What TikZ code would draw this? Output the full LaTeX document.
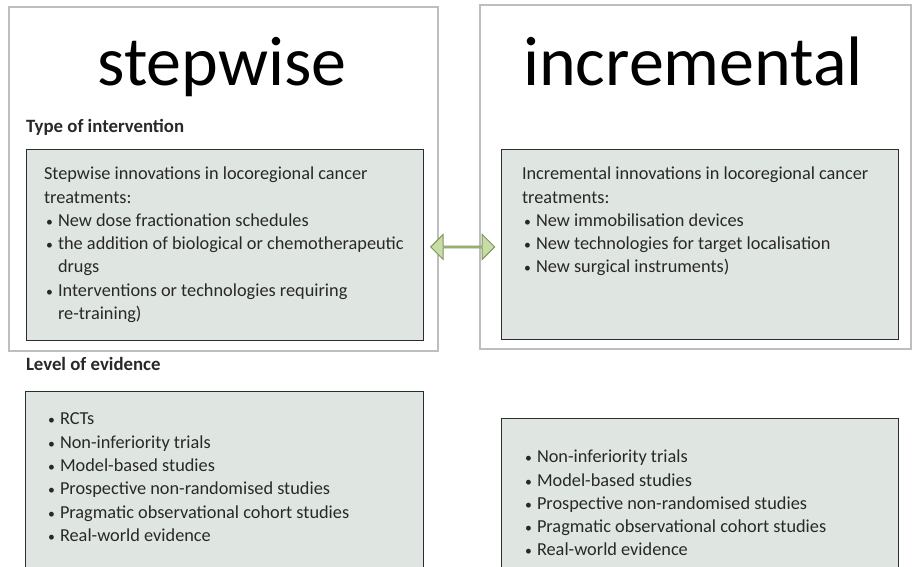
\documentclass[tikz,border=0pt]{standalone}
\usepackage{fontspec}
\setmainfont{Carlito}
\usetikzlibrary{positioning}
\usetikzlibrary{calc}
\usetikzlibrary{shapes.arrows}
\definecolor{framegray}{RGB}{190,190,190}
\definecolor{boxfill}{RGB}{223,230,226}
\definecolor{boxline}{RGB}{45,45,45}
\definecolor{bodytext}{RGB}{40,40,40}
\definecolor{arrowfill}{RGB}{200,220,166}
\definecolor{arrowline}{RGB}{128,150,92}
\newcommand{\bul}{\makebox[14pt][l]{\hspace*{2pt}\scalebox{0.75}{\textbullet}}}
\newcommand{\cont}{\hspace*{14pt}}
\tikzset{
  outerbox/.style={draw=framegray,line width=1.5pt,rectangle,inner sep=0pt,anchor=north west},
  greenbox/.style={draw=boxline,line width=1.4pt,fill=boxfill,rectangle,inner sep=0pt,anchor=north west},
  boxtext/.style={inner sep=0mm,outer sep=0mm,anchor=north west,align=left,text=bodytext,font=\fontsize{18.3}{23.3}\selectfont},
  heading/.style={inner sep=0mm,outer sep=0mm,anchor=base west,text=bodytext,font=\fontsize{18.8}{22}\selectfont\bfseries},
  bigtitle/.style={inner sep=0mm,outer sep=0mm,anchor=base,font=\fontsize{70}{80}\selectfont}
}
\begin{document}
\begin{tikzpicture}[x=1pt,y=-1pt]
          \useasboundingbox (0,0) rectangle (912,566);
          \clip (0,0) rectangle (912,566);
          \node (stepouter) [outerbox,minimum width=429pt,minimum height=344pt] at (8,6) {};
          \node (incrouter) [outerbox,minimum width=431pt,minimum height=344pt] at (479,4) {};
          \node (steptitle) [bigtitle] at (222,85) {stepwise};
          \node (incrtitle) [bigtitle] at (693,85) {incremental};
          \node (typelabel) [heading] at (26,132) {Type of intervention};
          \node (stepinner) [greenbox,minimum width=397pt,minimum height=191pt] at (26,149) {};
          \node (incrinner) [greenbox,minimum width=397pt,minimum height=190pt] at (501,149) {};
          \node (steptext) [boxtext] at (44,167) {Stepwise innovations in locoregional cancer\\
                                                  treatments:\\
                                                  \bul New dose fractionation schedules\\
                                                  \bul the addition of biological or chemotherapeutic\\
                                                  \cont drugs\\
                                                  \bul Interventions or technologies requiring\\
                                                  \cont re-training)};
          \node (incrtext) [boxtext] at (522,167) {Incremental innovations in locoregional cancer\\
                                                   treatments:\\
                                                   \bul New immobilisation devices\\
                                                   \bul New technologies for target localisation\\
                                                   \bul New surgical instruments)};
          \node (link) [double arrow,draw=arrowline,fill=arrowfill,line width=1pt,minimum width=25pt,minimum height=64pt,double arrow head extend=7pt,inner sep=0pt] at ($(stepinner.east)!0.5!(incrinner.west) + (0,2)$) {};
          \node (levellabel) [heading] at (26,370) {Level of evidence};
          \node (stepevid) [greenbox,minimum width=398pt,minimum height=220pt] at (25,391) {};
          \node (increvid) [greenbox,minimum width=397pt,minimum height=200pt] at (501,418) {};
          \node (stepevidtext) [boxtext] at (46,413) {\bul RCTs\\
                                                      \bul Non-inferiority trials\\
                                                      \bul Model-based studies\\
                                                      \bul Prospective non-randomised studies\\
                                                      \bul Pragmatic observational cohort studies\\
                                                      \bul Real-world evidence};
          \node (increvidtext) [boxtext] at (523,450) {\bul Non-inferiority trials\\
                                                       \bul Model-based studies\\
                                                       \bul Prospective non-randomised studies\\
                                                       \bul Pragmatic observational cohort studies\\
                                                       \bul Real-world evidence};
        \end{tikzpicture}
\end{document}
